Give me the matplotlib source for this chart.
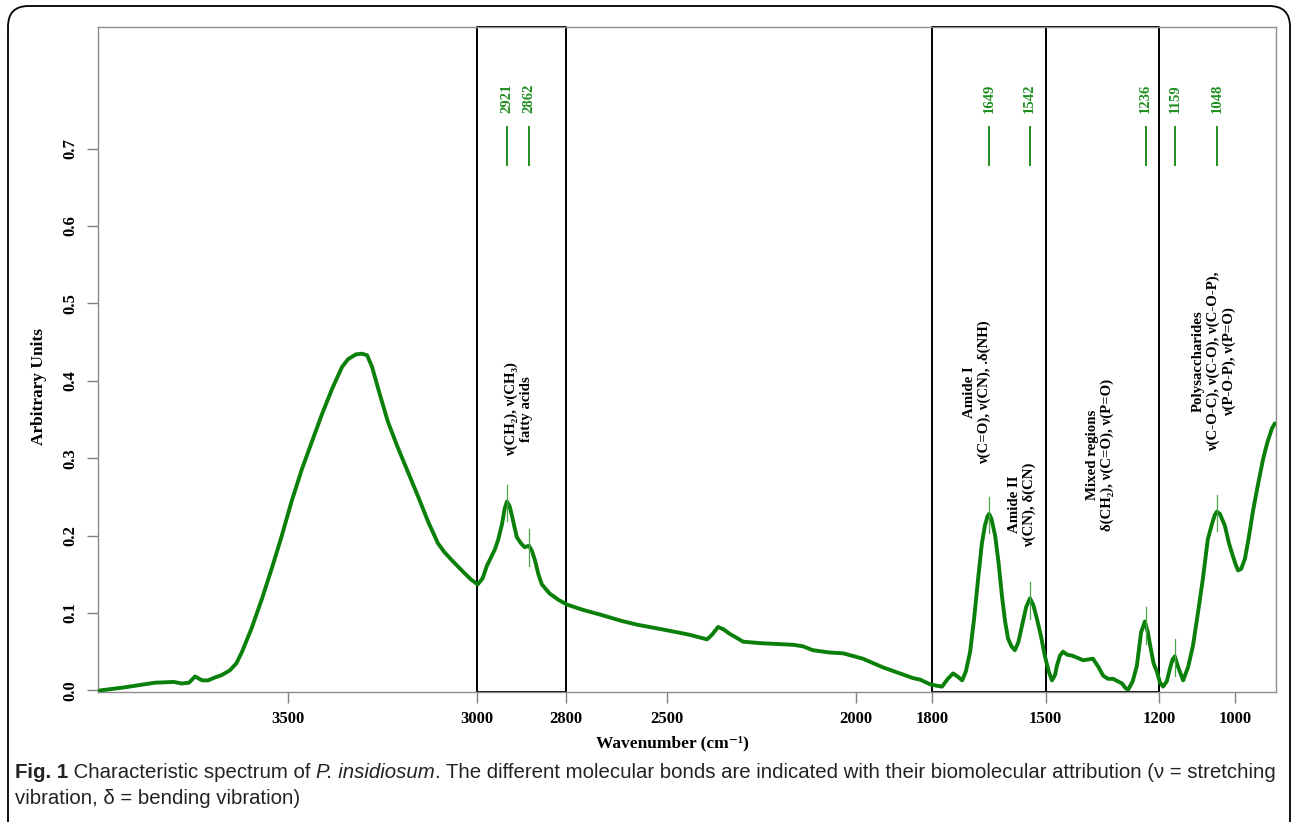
import numpy as np
import matplotlib
matplotlib.use('Agg')
import matplotlib.pyplot as plt
from matplotlib.patches import FancyBboxPatch

plt.rcParams['font.family'] = ['Liberation Serif', 'DejaVu Serif']
plt.rcParams['font.weight'] = 'bold'

# spectrum (cm-1, arbitrary units)
wavenumber = [3995, 3930, 3850, 3800, 3779, 3760, 3744, 3725, 3710, 3690, 3673, 3652,
              3635, 3620, 3595, 3567, 3540, 3515, 3490, 3462, 3435, 3409, 3382, 3356,
              3340, 3320, 3304, 3290, 3277, 3255, 3235, 3210, 3182, 3155, 3129, 3103,
              3085, 3066, 3050, 3032, 3015, 2998, 2985, 2974, 2963, 2953, 2944, 2934,
              2927, 2921, 2914, 2908, 2895, 2884, 2874, 2863, 2855, 2847, 2838, 2829,
              2808, 2785, 2763, 2720, 2668, 2620, 2578, 2535, 2491, 2440, 2393, 2380,
              2364, 2350, 2333, 2315, 2298, 2250, 2166, 2140, 2114, 2070, 2034, 1982,
              1930, 1884, 1850, 1831, 1805, 1786, 1773, 1758, 1744, 1732, 1720, 1710,
              1699, 1688, 1678, 1668, 1660, 1653, 1649, 1643, 1633, 1624, 1615, 1607,
              1599, 1590, 1581, 1572, 1562, 1551, 1541, 1532, 1523, 1512, 1502, 1492,
              1483, 1475, 1470, 1462, 1454, 1442, 1430, 1415, 1401, 1388, 1375, 1360,
              1348, 1335, 1322, 1310, 1298, 1289, 1282, 1270, 1259, 1248, 1238, 1230,
              1224, 1215, 1206, 1198, 1190, 1180, 1172, 1165, 1159, 1150, 1137, 1124,
              1111, 1098, 1085, 1072, 1061, 1054, 1048, 1040, 1027, 1016, 1006, 998,
              992, 984, 974, 963, 953, 940, 926, 915, 903, 895]
absorbance = [0.000, 0.004, 0.010, 0.011, 0.009, 0.010, 0.018, 0.013, 0.013, 0.017, 0.020, 0.026,
              0.035, 0.050, 0.080, 0.119, 0.160, 0.200, 0.243, 0.286, 0.322, 0.357, 0.390, 0.418,
              0.428, 0.434, 0.435, 0.433, 0.418, 0.380, 0.347, 0.315, 0.282, 0.250, 0.218, 0.190,
              0.178, 0.168, 0.160, 0.151, 0.143, 0.137, 0.145, 0.161, 0.172, 0.182, 0.195, 0.215,
              0.235, 0.244, 0.238, 0.226, 0.198, 0.190, 0.185, 0.187, 0.180, 0.168, 0.150, 0.137,
              0.125, 0.117, 0.111, 0.104, 0.097, 0.090, 0.085, 0.081, 0.077, 0.072, 0.066, 0.072,
              0.082, 0.079, 0.073, 0.068, 0.063, 0.061, 0.059, 0.057, 0.052, 0.049, 0.048, 0.041,
              0.030, 0.022, 0.016, 0.014, 0.008, 0.006, 0.005, 0.015, 0.022, 0.018, 0.013, 0.025,
              0.050, 0.095, 0.144, 0.190, 0.213, 0.225, 0.228, 0.222, 0.200, 0.165, 0.122, 0.090,
              0.067, 0.057, 0.052, 0.062, 0.084, 0.108, 0.119, 0.110, 0.093, 0.070, 0.045, 0.025,
              0.013, 0.020, 0.032, 0.045, 0.050, 0.046, 0.045, 0.042, 0.039, 0.040, 0.041, 0.030,
              0.019, 0.015, 0.015, 0.012, 0.009, 0.003, 0.001, 0.012, 0.032, 0.075, 0.089, 0.075,
              0.058, 0.035, 0.024, 0.010, 0.005, 0.012, 0.028, 0.040, 0.044, 0.030, 0.013, 0.030,
              0.058, 0.100, 0.144, 0.195, 0.215, 0.226, 0.231, 0.228, 0.213, 0.190, 0.174, 0.162,
              0.155, 0.157, 0.170, 0.200, 0.231, 0.265, 0.299, 0.320, 0.338, 0.345]

peak_wn = [2921, 2862, 1649, 1542, 1236, 1159, 1048]

# band regions; the original draws the "2800" edge a little past 2800
regions = [(3000, 2765), (1800, 1500), (1500, 1200)]
x_ticks = [3500, 3000, 2765, 2500, 2000, 1800, 1500, 1200, 1000]
x_tick_labels = ['3500', '3000', '2800', '2500', '2000', '1800', '1500', '1200', '1000']
y_ticks = [0.0, 0.1, 0.2, 0.3, 0.4, 0.5, 0.6, 0.7]

band_wn = [2889, 1681, 1562, 1356, 1056]
band_y = [0.363, 0.385, 0.240, 0.304, 0.425]
band_text = ['ν(CH₂), ν(CH₃)\nfatty acids',
             'Amide I\nν(C=O), ν(CN), .δ(NH)',
             'Amide II\nν(CN), δ(CN)',
             'Mixed regions\nδ(CH₂), ν(C=O), ν(P=O)',
             'Polysaccharides\nν(C-O-C), ν(C-O), ν(C-O-P),\nν(P-O-P), ν(P=O)']

W, H = 1293, 822
fig = plt.figure(figsize=(W / 100, H / 100), dpi=100)
ax = fig.add_axes([98 / W, 1 - 692 / H, (1276 - 98) / W, (692 - 27) / H])

green = '#0a800a'
ax.plot(wavenumber, absorbance, color=green, lw=2.8, solid_capstyle='round', zorder=3)

# peak ticks through the curve and the labelled markers at the top
for p in peak_wn:
    v = np.interp(p, wavenumber[::-1], absorbance[::-1])
    ax.plot([p, p], [v - 0.025, v + 0.022], color='#4aa84a', lw=0.9, zorder=4)
    ax.plot([p, p], [0.679, 0.728], color='#1f8f1f', lw=1.4)
    ax.text(p, 0.746, str(p), rotation=90, ha='center', va='bottom',
            color='#1f8f1f', fontsize=10.5)

for a, b in regions:
    ax.plot([a, a, b, b, a], [-0.002, 0.857, 0.857, -0.002, -0.002],
            color='black', lw=1.4, zorder=2, clip_on=False)

for x, y, t in zip(band_wn, band_y, band_text):
    ax.text(x, y, t, rotation=90, ha='center', va='center',
            multialignment='center', fontsize=10.7, color='black')

ax.set_xlim(4000, 892)
ax.set_ylim(-0.002, 0.857)
ax.set_xticks(x_ticks)
ax.set_xticklabels(x_tick_labels)
ax.set_yticks(y_ticks)
ax.set_yticklabels([f'{v:.1f}' for v in y_ticks], rotation=90, va='center')
ax.tick_params(axis='both', color='#808080', length=8, width=1, labelsize=12, pad=6)
for lbl in ax.get_xticklabels() + ax.get_yticklabels():
    lbl.set_fontweight('bold')
for s in ax.spines.values():
    s.set_color('#8c8c8c')
    s.set_linewidth(1)

ax.set_xlabel('Wavenumber (cm⁻¹)', fontsize=12.5, fontweight='bold')
ax.xaxis.set_label_coords(0.488, -0.066)
ax.set_ylabel('Arbitrary Units', fontsize=12.5, fontweight='bold')
ax.yaxis.set_label_coords(-0.043, 0.46)

# outer frame with rounded corners, open at the bottom
frame = FancyBboxPatch((8 / W, -0.05), (1290 - 8) / W, 1.05 - 6 / H,
                       boxstyle='round,pad=0,rounding_size=0.016',
                       transform=fig.transFigure, fill=False,
                       edgecolor='black', lw=1.3, mutation_aspect=W / H)
fig.patches.append(frame)

# caption with mixed styles, sized so the first line spans the frame
cap_font = ['Liberation Sans', 'DejaVu Sans']
renderer = fig.canvas.get_renderer()
line1 = [('Fig. 1', 'bold', 'normal'),
         (' Characteristic spectrum of ', 'normal', 'normal'),
         ('P. insidiosum', 'normal', 'italic'),
         ('. The different molecular bonds are indicated with their biomolecular '
          'attribution (ν = stretching', 'normal', 'normal')]
line2 = [('vibration, δ = bending vibration)', 'normal', 'normal')]


def put_runs(runs, x0, y, fs):
    x = x0
    made = []
    for txt, w, st in runs:
        t = fig.text(x, y, txt, family=cap_font, weight=w, style=st,
                     fontsize=fs, color='#222222', va='baseline', ha='left')
        made.append(t)
        x += t.get_window_extent(renderer).width / W
    return made, (x - x0) * W


tmp, width = put_runs(line1, 15 / W, 1 - 778 / H, 13)
for t in tmp:
    t.remove()
cap_fs = 13 * 1258 / width
put_runs(line1, 15 / W, 1 - 778 / H, cap_fs)
put_runs(line2, 15 / W, 1 - 804 / H, cap_fs)

fig.savefig('out.png', dpi=100)
